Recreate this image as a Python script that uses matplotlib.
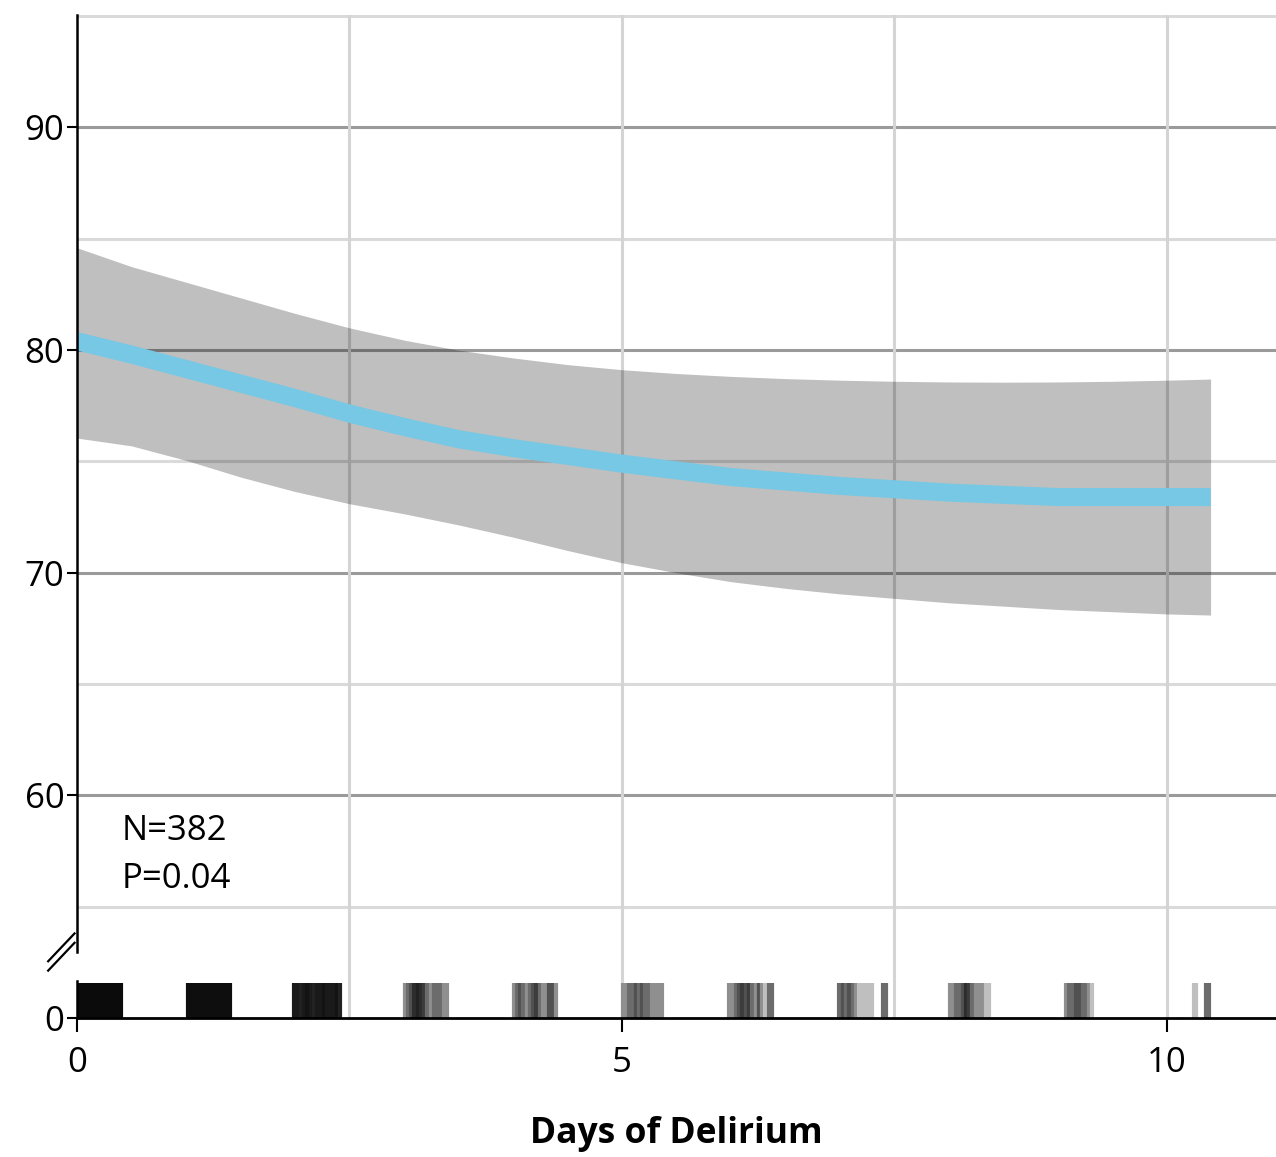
"""Days of delirium vs. score: fitted curve with confidence band and rug of patients."""
import numpy as np
import matplotlib.pyplot as plt

plt.rcParams["font.family"] = ["Open Sans", "DejaVu Sans"]

# fitted curve
curve_x = [0, 0.5, 1, 1.5, 2, 2.5, 3, 3.5, 4, 4.5, 5, 5.5, 6, 6.5, 7, 7.5, 8, 8.5, 9, 9.5, 10, 10.4]
curve_y = [80.4, 79.8, 79.15, 78.5, 77.85, 77.15, 76.55, 76.0, 75.6, 75.25, 74.9, 74.6,
           74.3, 74.1, 73.9, 73.75, 73.6, 73.5, 73.4, 73.4, 73.4, 73.4]
upper_y = [84.6, 83.75, 83.05, 82.35, 81.65, 81.0, 80.45, 80.0, 79.65, 79.35, 79.12, 78.95,
           78.82, 78.72, 78.65, 78.6, 78.57, 78.56, 78.57, 78.6, 78.65, 78.7]
lower_y = [76.05, 75.7, 75.05, 74.3, 73.65, 73.1, 72.65, 72.15, 71.6, 71.0, 70.45, 70.0,
           69.6, 69.3, 69.05, 68.85, 68.65, 68.5, 68.35, 68.25, 68.15, 68.1]

# rug: position of patients (days) and how many patients sit on each position
rug_x = [
    0.015, 0.045, 0.075, 0.105, 0.135, 0.165, 0.195, 0.225, 0.255, 0.285, 0.315, 0.345, 0.375, 0.405,
    1.015, 1.045, 1.075, 1.105, 1.135, 1.165, 1.195, 1.225, 1.255, 1.285, 1.315, 1.345, 1.375, 1.405,
    1.995, 2.025, 2.055, 2.085, 2.115, 2.145, 2.175, 2.205, 2.235, 2.265, 2.295, 2.325, 2.355, 2.385, 2.415,
    3.005, 3.035, 3.065, 3.095, 3.125, 3.155, 3.185, 3.215, 3.245, 3.275, 3.305, 3.335, 3.365, 3.395,
    4.005, 4.035, 4.065, 4.095, 4.125, 4.155, 4.185, 4.215, 4.245, 4.275, 4.305, 4.335, 4.365, 4.395,
    5.005, 5.035, 5.065, 5.095, 5.125, 5.155, 5.185, 5.215, 5.245, 5.275, 5.305, 5.335, 5.365,
    5.985, 6.015, 6.045, 6.075, 6.105, 6.135, 6.165, 6.195, 6.225, 6.255, 6.285, 6.315, 6.345, 6.375,
    6.995, 7.025, 7.055, 7.085, 7.115, 7.145, 7.175, 7.205, 7.235, 7.265, 7.295, 7.325, 7.395, 7.425,
    8.005, 8.035, 8.065, 8.095, 8.125, 8.155, 8.185, 8.215, 8.245, 8.275, 8.305, 8.335, 8.365,
    9.075, 9.105, 9.135, 9.165, 9.195, 9.225, 9.255, 9.285, 9.315,
    10.245, 10.265, 10.355, 10.385,
]
rug_n = [
    11, 11, 11, 11, 11, 11, 11, 11, 11, 11, 11, 11, 11, 11,
    10, 10, 10, 10, 10, 10, 10, 10, 10, 10, 10, 10, 10, 10,
    8, 8, 7, 8, 9, 8, 7, 8, 8, 9, 8, 8, 8, 9, 7,
    2, 3, 4, 6, 7, 6, 5, 3, 2, 3, 3, 3, 2, 2,
    2, 3, 4, 3, 2, 3, 4, 5, 3, 2, 2, 4, 4, 2,
    2, 2, 3, 3, 4, 3, 4, 3, 3, 2, 2, 2, 2,
    2, 2, 3, 4, 5, 4, 5, 3, 2, 4, 2, 1, 3, 3,
    3, 4, 3, 4, 3, 2, 1, 1, 1, 1, 1, 0, 3, 3,
    2, 2, 3, 3, 4, 6, 5, 3, 2, 2, 2, 1, 1,
    2, 3, 3, 4, 4, 3, 3, 2, 1,
    1, 1, 3, 3,
]

y_ticks = [50, 60, 70, 80, 90]
y_tick_labels = ["0", "60", "70", "80", "90"]
x_ticks = [0, 5, 10]

fig = plt.figure(figsize=(12.76, 11.57), dpi=100)
ax = fig.add_axes([0.0603, 0.1201, 0.9397, 0.8669])
ax.set_xlim(0, 11)
ax.set_ylim(50, 95.05)

# grid
for g in [60, 70, 80, 90]:
    ax.axhline(g, color="#9a9a9a", lw=2.2, zorder=1)
for g in [55, 65, 75, 85, 95]:
    ax.axhline(g, color="#dadada", lw=2.2, zorder=1)
for g in [2.5, 5, 7.5, 10]:
    ax.axvline(g, color="#d4d4d4", lw=2.2, zorder=1)

# confidence band and fitted curve
ax.fill_between(curve_x, lower_y, upper_y, color="black", alpha=0.25, lw=0, zorder=2)
ax.plot(curve_x, curve_y, color="#76c8e4", lw=13, solid_capstyle="butt",
        solid_joinstyle="round", zorder=3)

# rug
rug_top = 51.56
for x, n in zip(rug_x, rug_n):
    if n > 0:
        shade = 1 - 0.75 ** n
        ax.vlines(x, 50, rug_top, color=str(round(1 - shade, 3)), lw=3.0, zorder=3)

# spines and the broken y axis
for side in ["top", "right", "left"]:
    ax.spines[side].set_visible(False)
ax.spines["bottom"].set_linewidth(2)
ax.spines["bottom"].set_zorder(5)
ax.plot([0, 0], [52.95, 95.05], color="black", lw=1.8, clip_on=False, zorder=5)
ax.plot([0, 0], [50, 51.65], color="black", lw=1.8, clip_on=False, zorder=5)
trans = ax.get_yaxis_transform()
for dy in [0, -0.42]:
    ax.plot([-0.024, -0.002], [52.55 + dy, 53.8 + dy], color="black", lw=1.6,
            transform=trans, clip_on=False, zorder=5)

ax.set_yticks(y_ticks)
ax.set_yticklabels(y_tick_labels)
ax.set_xticks(x_ticks)
ax.tick_params(axis="y", length=7, width=1.5, labelsize=25, pad=2)
ax.tick_params(axis="x", length=10, width=1.5, labelsize=25, pad=10)

ax.text(0.41, 58.4, "N=382", fontsize=25, va="center", ha="left")
ax.text(0.41, 56.25, "P=0.04", fontsize=25, va="center", ha="left")

ax.set_xlabel("Days of Delirium", fontsize=25.5, fontweight="bold", labelpad=26)

fig.savefig("out.png", dpi=100)
